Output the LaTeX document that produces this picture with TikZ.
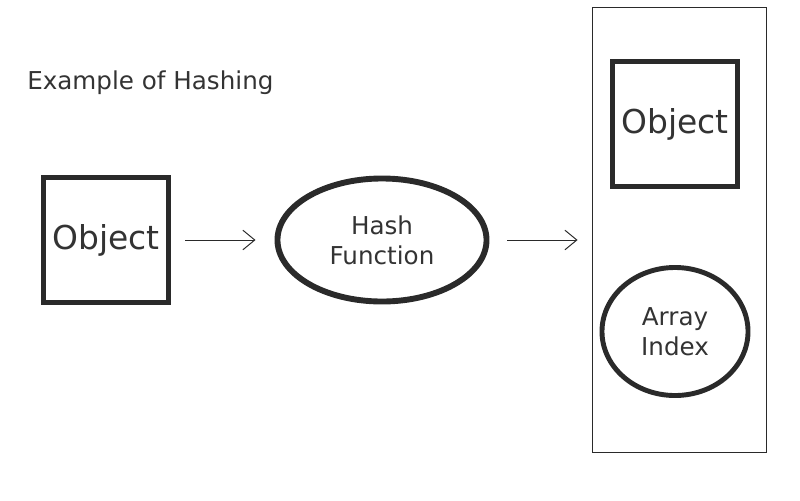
\documentclass[tikz,border=0pt]{standalone}
\usepackage{fontspec}
\setmainfont{DejaVu Sans}
\usepackage{tikz}
\usetikzlibrary{
  arrows.meta,
  positioning,
  shapes.geometric,
}
\definecolor{hashInk} {RGB}{ 42,  42,  42}
\definecolor{hashText}{RGB}{ 51,  51,  51}

\begin{document}
\begin{tikzpicture}[
  x=0.025cm, y=-0.025cm,
  objbox/.style ={draw=hashInk, line width=3.5pt, fill=white,
                  minimum width=3.125cm, minimum height=3.125cm,
                  inner sep=0pt, text=hashText,
                  font=\fontsize{23.4}{28}\selectfont},
  func/.style   ={ellipse, draw=hashInk, line width=4.2pt, fill=white,
                  inner sep=0pt, align=center, text=hashText,
                  font=\fontsize{17.5}{21.3}\selectfont},
  bucket/.style ={draw=hashInk, line width=0.7pt,
                  minimum width=4.325cm, minimum height=11.1cm},
  caption/.style={anchor=base west, inner sep=0pt, text=hashText,
                  font=\fontsize{17.5}{21.3}\selectfont},
  flow/.style   ={-{Straight Barb[length=8.5pt,width=14pt]},
                  line width=0.7pt, draw=hashInk},
]
  \useasboundingbox (0,0) rectangle (800,500);

  % Heading top left
  \node[caption] (title) at (27,89) {Example of Hashing};

  % Main row: object -> hash function
  \node[objbox] (obj)  at (106,240) {Object};
  \node[func, minimum width=5.225cm, minimum height=3.075cm]
                (hash) at (382,240) {Hash\\Function};

  % Table column on the right, holding the object and its index
  \node[bucket] (table) at (679.5,230) {};
  \node[objbox] (slot)  at (675,124) {Object};
  \node[func, line width=3.5pt, minimum width=3.65cm, minimum height=3.2cm]
                (index) at (675,331.5) {Array\\Index};

  % Arrows stop short of the shapes
  \draw[flow, shorten <=10pt, shorten >=13.5pt] (obj) -- (hash);
  \draw[flow, shorten <=12.8pt, shorten >=10.6pt]
        (hash.east) -- (hash.east -| table.west);

\end{tikzpicture}
\end{document}
